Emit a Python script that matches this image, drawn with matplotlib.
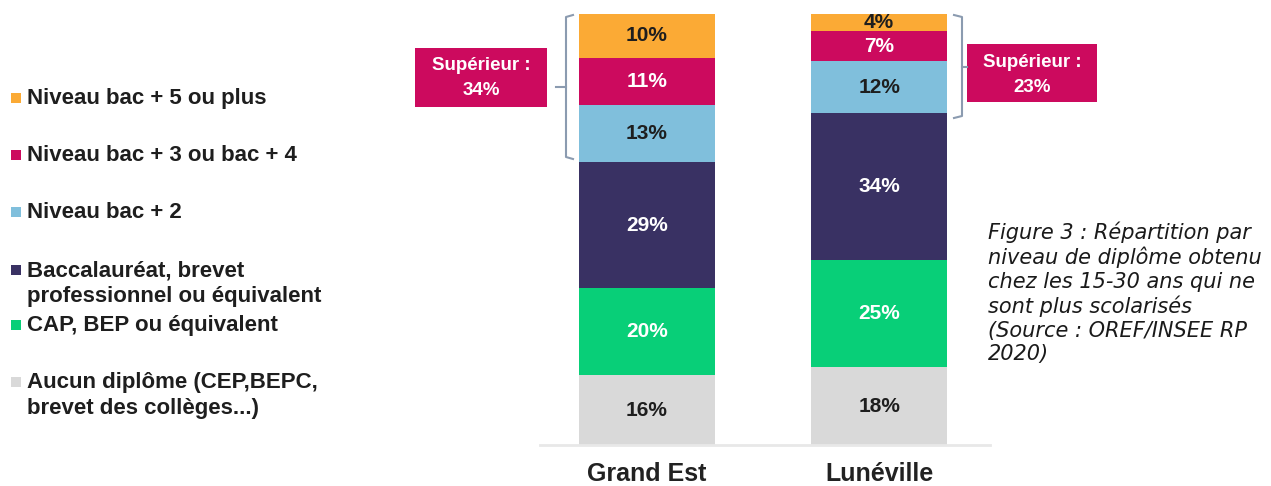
import numpy as np
import matplotlib.pyplot as plt
from matplotlib.patches import Rectangle

plt.rcParams['font.family'] = ['Liberation Sans', 'DejaVu Sans']

zones = ['Grand Est', 'Lunéville']
categories = ['Aucun diplôme (CEP,BEPC,\nbrevet des collèges...)',
              'CAP, BEP ou équivalent',
              'Baccalauréat, brevet\nprofessionnel ou équivalent',
              'Niveau bac + 2',
              'Niveau bac + 3 ou bac + 4',
              'Niveau bac + 5 ou plus']
grand_est = [16, 20, 29, 13, 11, 10]
luneville = [18, 25, 34, 12, 7, 4]
superieur = [34, 23]

colors = ['#d9d9d9', '#08cf78', '#393163', '#80bfdc', '#cc0a5e', '#fbaa35']
text_colors = ['#1e1e1e', 'white', 'white', '#1e1e1e', 'white', '#1e1e1e']

W, H = 1271, 486
fig = plt.figure(figsize=(W / 100, H / 100), dpi=100)

# main bar axes (pixel positions of the reference)
ax = fig.add_axes([540 / W, 1 - 445 / H, 450 / W, 431 / H])
data = np.array([grand_est, luneville], dtype=float)
heights = data / data.sum(axis=1, keepdims=True) * 100
x = np.arange(len(zones))
bottom = np.zeros(len(zones))
for i in range(len(categories)):
    ax.bar(x, heights[:, i], bottom=bottom, width=0.586, color=colors[i], edgecolor='none')
    for j in range(len(zones)):
        ax.text(x[j], bottom[j] + heights[j, i] / 2, f'{int(data[j, i])}%',
                ha='center', va='center', fontsize=15, fontweight='bold',
                color=text_colors[i])
    bottom += heights[:, i]
ax.set_xlim(-0.461, 1.478)
ax.set_ylim(0, 100)
ax.axhline(0, color='#e8e8e8', lw=2, clip_on=False)
for s in ax.spines.values():
    s.set_visible(False)
ax.set_yticks([])
ax.set_xticks(x)
ax.set_xticklabels(zones, fontsize=18, fontweight='bold', color='#222222')
ax.tick_params(axis='x', length=0, pad=12)

# overlay in pixel coordinates for legend, brackets, boxes, caption
ov = fig.add_axes([0, 0, 1, 1])
ov.set_xlim(0, W)
ov.set_ylim(H, 0)
ov.axis('off')

legend_y = [382, 325, 270, 212, 155, 98]
for i, lab in enumerate(categories):
    ov.add_patch(Rectangle((11, legend_y[i] - 5), 10, 10, color=colors[i], lw=0))
    nlines = lab.count('\n') + 1
    ov.text(27, legend_y[i] + 13.5 * (nlines - 1), lab, va='center', ha='left',
            fontsize=16, fontweight='bold', color='#1e1e1e', linespacing=1.28)

bc = '#8b9bb0'
# left bracket (Grand Est)
ov.plot([573, 566, 566, 573], [15, 17, 157, 159], color=bc, lw=1.5)
ov.plot([556, 566], [87, 87], color=bc, lw=1.5)
# right bracket (Lunéville)
ov.plot([954, 962, 962, 954], [15, 17, 116, 118], color=bc, lw=1.5)
ov.plot([962, 967], [67, 67], color=bc, lw=1.5)

ov.add_patch(Rectangle((415, 48), 132, 59, color='#cc0a5e', lw=0))
ov.text(481, 78, f'Supérieur :\n{superieur[0]}%', ha='center', va='center',
        fontsize=13.5, fontweight='bold', color='white', linespacing=1.55)
ov.add_patch(Rectangle((967, 44), 130, 58, color='#cc0a5e', lw=0))
ov.text(1032, 75, f'Supérieur :\n{superieur[1]}%', ha='center', va='center',
        fontsize=13.5, fontweight='bold', color='white', linespacing=1.55)

caption = ('Figure 3 : Répartition par\nniveau de diplôme obtenu\n'
           'chez les 15-30 ans qui ne\nsont plus scolarisés\n'
           '(Source : OREF/INSEE RP\n2020)')
ov.text(988, 293, caption, ha='left', va='center', fontsize=15, style='italic',
        color='#1a1a1a', linespacing=1.22, family='DejaVu Sans')

fig.savefig('out.png', dpi=100)
